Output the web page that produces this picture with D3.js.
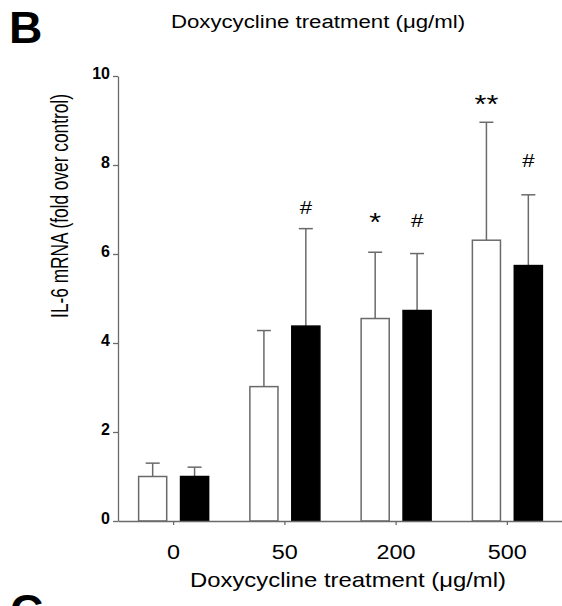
<!DOCTYPE html>
<html>
<head>
<meta charset="utf-8">
<script src="https://cdn.jsdelivr.net/npm/d3@7"></script>
<style>
  body { margin: 0; background: #fff; }
  svg { font-family: "Liberation Sans", Arial, sans-serif; }
</style>
</head>
<body>
<svg id="chart"></svg>
<script>
// doses (ug/ml) and the two series
const doses = ['0', '50', '200', '500'];
const ctrlMean = [1.0, 3.02, 4.55, 6.31];
const ctrlSd = [0.30, 1.26, 1.49, 2.65];
const doxMean = [1.0, 4.38, 4.73, 5.74];
const doxSd = [0.21, 2.19, 1.28, 1.59];
const ctrlMarks = ['', '', '*', '**'];
const doxMarks = ['', '#', '#', '#'];
// height (fold) where each significance mark sits
const ctrlMarkLevel = [0, 0, 6.8, 9.45];
const doxMarkLevel = [0, 7.05, 6.75, 8.1];
const yTicks = [0, 2, 4, 6, 8, 10];

const w = 562;
const h = 606;
const plotLeft = 118;
const plotBase = 521;
const plotTop = 76;
const grey = '#6a6a6a';
const stretch = 1.17; // the source figure is a bit wider than tall

const svg = d3.select('#chart')
  .attr('width', w)
  .attr('height', h);

const x0 = d3.scaleBand()
  .domain(doses)
  .range([plotLeft, 563])
  .padding(0);

const x1 = d3.scaleBand()
  .domain(['ctrl', 'dox'])
  .range([x0.bandwidth() / 2 - 35, x0.bandwidth() / 2 + 35])
  .paddingInner(0.33)
  .paddingOuter(0);

const y = d3.scaleLinear()
  .domain([0, 10])
  .range([plotBase, plotTop]);

const rows = doses.map((d, i) => ({
  dose: d,
  bars: [
    { key: 'ctrl', mean: ctrlMean[i], sd: ctrlSd[i], mark: ctrlMarks[i], level: ctrlMarkLevel[i] },
    { key: 'dox', mean: doxMean[i], sd: doxSd[i], mark: doxMarks[i], level: doxMarkLevel[i] }
  ]
}));

function label(x, yy, size, txt, sx, extra) {
  return svg.append('text')
    .attr('transform', `translate(${x},${yy}) scale(${sx},1)` + (extra || ''))
    .attr('font-size', size)
    .text(txt);
}

// panel letters
label(9, 43, 44, 'B', 1.05).attr('font-weight', 'bold');
label(10, 626, 44, 'C', 1.05).attr('font-weight', 'bold');

label(318, 28, 19, 'Doxycycline treatment (\u03bcg/ml)', stretch)
  .attr('text-anchor', 'middle');

const groups = svg.selectAll('g.group')
  .data(rows)
  .enter()
  .append('g')
  .attr('class', 'group')
  .attr('transform', d => `translate(${x0(d.dose)},0)`);

const bar = groups.selectAll('g.bar')
  .data(d => d.bars)
  .enter()
  .append('g')
  .attr('class', 'bar');

// error bars first so the bar covers the lower half
bar.append('line')
  .attr('x1', d => x1(d.key) + x1.bandwidth() / 2)
  .attr('x2', d => x1(d.key) + x1.bandwidth() / 2)
  .attr('y1', d => y(d.mean))
  .attr('y2', d => y(d.mean + d.sd))
  .attr('stroke', grey)
  .attr('stroke-width', 1.5);

bar.append('line')
  .attr('x1', d => x1(d.key) + x1.bandwidth() / 2 - 7)
  .attr('x2', d => x1(d.key) + x1.bandwidth() / 2 + 7)
  .attr('y1', d => y(d.mean + d.sd))
  .attr('y2', d => y(d.mean + d.sd))
  .attr('stroke', grey)
  .attr('stroke-width', 1.5);

bar.append('rect')
  .attr('x', d => x1(d.key))
  .attr('y', d => y(d.mean))
  .attr('width', x1.bandwidth())
  .attr('height', d => plotBase - y(d.mean))
  .attr('fill', d => d.key === 'ctrl' ? '#fff' : '#000')
  .attr('stroke', d => d.key === 'ctrl' ? grey : '#000')
  .attr('stroke-width', 1.5);

bar.filter(d => d.mark !== '')
  .append('text')
  .attr('transform', d => `translate(${x1(d.key) + x1.bandwidth() / 2},${y(d.level) + (d.mark === '#' ? 6.5 : 13)}) scale(${stretch},1)`)
  .attr('text-anchor', 'middle')
  .attr('font-size', d => d.mark === '#' ? 19 : 26)
  .text(d => d.mark);

const xAxis = d3.axisBottom(x0)
  .tickSize(4)
  .tickSizeOuter(0)
  .tickPadding(20);

const yAxis = d3.axisLeft(y)
  .tickValues(yTicks)
  .tickSize(5)
  .tickSizeOuter(0)
  .tickPadding(3);

const gx = svg.append('g')
  .attr('id', 'x-axis')
  .attr('transform', `translate(0, ${plotBase})`)
  .call(xAxis);
gx.selectAll('text')
  .attr('font-size', 19.5)
  .attr('fill', '#000')
  .attr('transform', 'scale(1.2,1)');

const gy = svg.append('g')
  .attr('id', 'y-axis')
  .attr('transform', `translate(${plotLeft}, 0)`)
  .call(yAxis);
gy.selectAll('text')
  .attr('font-size', 16)
  .attr('font-weight', 'bold')
  .attr('fill', '#000')
  .attr('dy', '0.15em');

svg.selectAll('.domain, .tick line')
  .attr('stroke', grey)
  .attr('stroke-width', 1.3);

label(348, 587, 20.4, 'Doxycycline treatment (\u03bcg/ml)', stretch)
  .attr('text-anchor', 'middle');

label(68, 206, 17.3, 'IL-6 mRNA (fold over control)', 1.4, ' rotate(-90)')
  .attr('text-anchor', 'middle');
</script>
</body>
</html>
